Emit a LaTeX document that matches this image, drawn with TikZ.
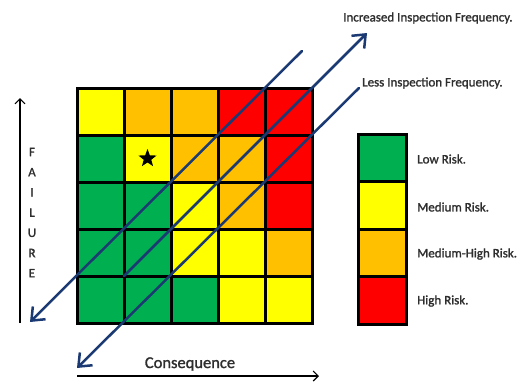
\documentclass[tikz,border=0pt]{standalone}
\usepackage{fontspec}
\setmainfont{Carlito}[FakeBold=1.2]
\newfontfamily\heavyfont{Carlito}[FakeBold=1.4]
\usetikzlibrary{arrows.meta,shapes.geometric}
\definecolor{rgreen}{HTML}{00B050}
\definecolor{ryellow}{HTML}{FFFF00}
\definecolor{rorange}{HTML}{FFC000}
\definecolor{rred}{HTML}{FF0000}
\definecolor{navy}{HTML}{1B3A73}
\definecolor{txt}{HTML}{2E2E2E}
\tikzset{
  cell/.style={draw=black, line width=3pt, minimum width=47pt, minimum height=47pt, inner sep=0pt, outer sep=0pt},
  lcell/.style={draw=black, line width=3pt, minimum width=48pt, minimum height=47.5pt, inner sep=0pt, outer sep=0pt},
  diag/.style={draw=navy, line width=2.5pt, line cap=round, -{Straight Barb[length=11pt,width=18pt,line width=2.5pt]}},
  axis/.style={draw=black, line width=1.2pt, -{Straight Barb[length=5pt,width=10pt,line width=1.1pt]}},
  lab/.style={font=\heavyfont\fontsize{13}{15}\selectfont, text=txt, anchor=west, inner sep=0pt},
  axlab/.style={font=\heavyfont\fontsize{13}{15}\selectfont, text=txt, inner sep=0pt},
}
\begin{document}
\begin{tikzpicture}[x=1pt,y=-1pt]
\useasboundingbox (0,0) rectangle (523,381);
% grid
\foreach \r/\cols in {1/{ryellow,rorange,rorange,rred,rred},
                      2/{rgreen,ryellow,rorange,rorange,rred},
                      3/{rgreen,rgreen,ryellow,rorange,rred},
                      4/{rgreen,rgreen,ryellow,ryellow,rorange},
                      5/{rgreen,rgreen,rgreen,ryellow,ryellow}}{
  \foreach \c [count=\i] in \cols {
    \node[cell, fill=\c] (g\r\i) at ({77+47*(\i-0.5)},{88+47*(\r-0.5)}) {};
  }
}
\node[star, star points=5, star point ratio=2.4, fill=black, inner sep=0pt, minimum size=19pt] (star) at (g22.center) {};
% legend
\node[lcell, fill=rgreen]  (l1) at (382,157.75) {};
\node[lcell, fill=ryellow] (l2) at (382,205.25) {};
\node[lcell, fill=rorange] (l3) at (382,252.75) {};
\node[lcell, fill=rred]    (l4) at (382,300.25) {};
\node[lab] (t1) at (417,159) {Low Risk.};
\node[lab] (t2) at (417,207) {Medium Risk.};
\node[lab] (t3) at (417,254) {Medium-High Risk.};
\node[lab] (t4) at (417,301) {High Risk.};
% diagonal lines
\coordinate (aTop) at (302,51);
\coordinate (aBot) at (30,322);
\coordinate (bTop) at (367,33);
\coordinate (cTop) at (359,88);
\coordinate (cBot) at (77,368);
\draw[diag] (aTop) -- (aBot);
\draw[diag] (g42.south west) -- (bTop);
\draw[diag] (cTop) -- (cBot);
\node[lab] (inc) at (343,18) {Increased Inspection Frequency.};
\node[lab] (less) at (362,83) {Less Inspection Frequency.};
% axes
\coordinate (fBot) at (20,323);
\coordinate (fTop) at (20,98);
\draw[axis] (fBot) -- (fTop);
\coordinate (cL) at (77,376);
\coordinate (cR) at (319,376);
\draw[axis] (cL) -- (cR);
\node[font=\heavyfont\fontsize{16.5}{18}\selectfont, text=txt, inner sep=0pt] (cons) at (190,364) {Consequence};
\foreach \ch [count=\k] in {F,A,I,L,U,R,E}{
  \node[axlab] (f\k) at (32,{152+20.2*(\k-1)}) {\ch};
}
\end{tikzpicture}
\end{document}
